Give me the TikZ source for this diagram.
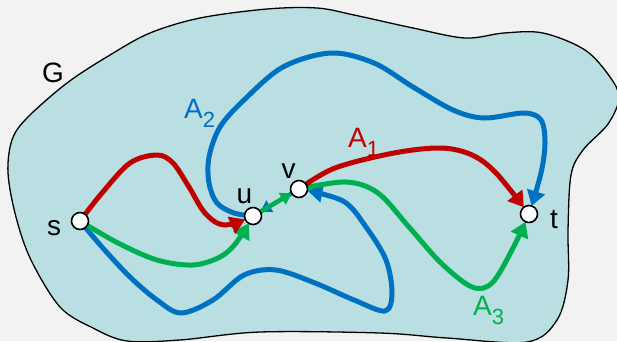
\documentclass[tikz,border=0pt]{standalone}
\usepackage{fontspec}
\setmainfont{Liberation Sans}
\usetikzlibrary{arrows.meta,backgrounds}
\definecolor{bgc}{HTML}{F2F2F2}
\definecolor{blobc}{HTML}{B9DFE2}
\definecolor{cred}{HTML}{C00000}
\definecolor{cblue}{HTML}{0070C0}
\definecolor{cgreen}{HTML}{00B050}
\newcommand{\subdigit}[1]{\raisebox{-9.5pt}{\fontsize{22}{22}\selectfont #1}}
\tikzset{
  vert/.style={circle, draw=black, line width=1.6pt, fill=white, minimum size=17pt, inner sep=0pt},
  lbl/.style={font=\fontsize{28}{30}\selectfont, inner sep=0pt, anchor=base},
  albl/.style={font=\fontsize{28}{30}\selectfont, inner sep=0pt, anchor=base west},
  pathline/.style={line width=5pt, line cap=round, line join=round},
  bigtip/.style={-{Triangle[length=15pt,width=18pt]}, shorten >=8.5pt},
  smalltip/.style={-{Triangle[length=11pt,width=13pt]}},
}
\begin{document}
\begin{tikzpicture}[x=1pt,y=-1pt]
\useasboundingbox (0,0) rectangle (617,341);
% vertices
\node[vert] (s) at (80,221) {};
\node[vert] (u) at (253,216) {};
\node[vert] (v) at (299,189) {};
\node[vert] (t) at (529,214) {};
% labels
\node[lbl] (lG) at (53,82) {G};
\node[lbl] (ls) at (54,235) {s};
\node[lbl] (lu) at (244.5,203) {u};
\node[lbl] (lv) at (288.5,178) {v};
\node[lbl] (lt) at (554,228) {t};
\node[albl, text=cred] (lA1) at (348,147) {A\subdigit{1}};
\node[albl, text=cblue] (lA2) at (184,118) {A\subdigit{2}};
\node[albl, text=cgreen] (lA3) at (473,315) {A\subdigit{3}};
\begin{scope}[on background layer]
\fill[bgc] (0,0) rectangle (617,341);
% region G
\draw[fill=blobc, line width=1.3pt] plot[smooth cycle, tension=0.55] coordinates {
 (317,8) (354,15) (413,28) (465,38) (504,33) (543,33) (585,50) (610,77) (619,98)
 (608,124) (583,150) (571,175) (568,230) (568,280) (557,320) (527,342)
 (447,338) (380,333) (260,332) (180,340) (127,341) (93,328) (60,307)
 (31,260) (16,217) (8,173) (12,140) (27,118) (67,83) (110,55) (150,33) (200,18) (267,9)};
% A2 (blue)
\draw[pathline, cblue, bigtip] plot[smooth, tension=0.55] coordinates {
 (s.center) (102,247) (130,277) (157,300) (181,313) (213,300) (244,275) (276,270)
 (315,283) (354,300) (385,311) (392,293) (386,260) (366,227) (343,201) (v.center)};
\draw[pathline, cblue, bigtip] plot[smooth, tension=0.55] coordinates {
 (u.center) (234,213) (217,203) (209,183) (209,157) (220,127) (244,100) (283,67)
 (331,53) (374,63) (413,87) (453,110) (484,118) (524,113) (541,120) (545,143) (541,173) (t.center)};
\draw[line width=4pt, cblue, smalltip, shorten <=8.5pt, shorten >=8.5pt] (v.center) -- (u.center);
% A3 (green)
\draw[pathline, cgreen, bigtip] plot[smooth, tension=0.55] coordinates {
 (s.center) (118,243) (157,260) (193,265) (220,257) (236,243) (u.center)};
\draw[line width=4.5pt, cgreen, smalltip, shorten <=8.5pt, shorten >=8.5pt] (u.center) -- (v.center);
\draw[pathline, cgreen, bigtip] plot[smooth, tension=0.55] coordinates {
 (v.center) (346,182) (378,193) (409,227) (441,263) (472,287) (492,283) (512,250) (t.center)};
% A1 (red)
\draw[pathline, cred, bigtip] plot[smooth, tension=0.55] coordinates {
 (s.center) (102,193) (130,163) (157,155) (173,163) (189,187) (205,213) (224,225) (u.center)};
\draw[pathline, cred, bigtip] plot[smooth, tension=0.55] coordinates {
 (v.center) (335,168) (394,153) (441,148) (472,155) (496,173) (t.center)};
\end{scope}
\end{tikzpicture}
\end{document}
